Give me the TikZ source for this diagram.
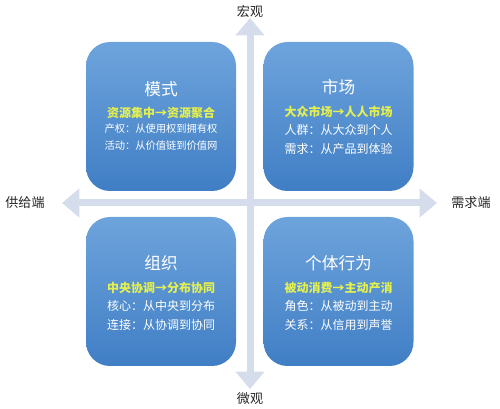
\documentclass[tikz,border=0pt]{standalone}
\usepackage{xcolor}
\usepackage{fontspec}
\setmainfont{Noto Sans CJK SC}
\usetikzlibrary{arrows.meta}

\definecolor{axisgray}{RGB}{213,220,236}
\definecolor{boxtop}{RGB}{110,164,220}
\definecolor{boxbottom}{RGB}{64,126,197}
\definecolor{keyyellow}{RGB}{228,240,78}

\tikzset{
  quad/.style={rounded corners=18pt, top color=boxtop, bottom color=boxbottom, draw=none,
    minimum width=112.5pt, minimum height=111.75pt, inner sep=0pt},
  headtext/.style={text=white, inner sep=0pt, font=\fontsize{12.5}{15}\selectfont},
  keytext/.style={text=keyyellow, inner sep=0pt, font=\fontsize{9}{11}\selectfont\bfseries},
  linetext/.style={text=white, inner sep=0pt, font=\fontsize{9}{11}\selectfont},
  smalltext/.style={text=white, inner sep=0pt, font=\fontsize{7.7}{9}\selectfont},
  axistext/.style={text=black!85, inner sep=0pt, font=\fontsize{9.8}{12}\selectfont},
  axisline/.style={draw=axisgray, line width=5.25pt, {Triangle[width=21pt,length=13pt]}-{Triangle[width=21pt,length=13pt]}}
}

\begin{document}
\begin{tikzpicture}[x=0.75pt,y=0.75pt,yscale=-1,xscale=1]
\useasboundingbox (0,0) rectangle (500,409);

%Axis ends
\coordinate (north) at (250,18);
\coordinate (south) at (250,389);
\coordinate (west) at (62,203);
\coordinate (east) at (437,203);
%Straight Lines: axes
\draw[axisline] (south) -- (north);
\draw[axisline] (west) -- (east);

%Shape: Rounded boxes
\node[quad] (mode) at (161,116.5) {};
\node[quad] (market) at (338.5,116.5) {};
\node[quad] (org) at (161,291.5) {};
\node[quad] (indiv) at (338.5,291.5) {};

% Text Node
\node[axistext] (macro) at (250,11) {宏观};
% Text Node
\node[axistext] (micro) at (250,399) {微观};
% Text Node
\node[axistext] (supply) at (25,203) {供给端};
% Text Node
\node[axistext] (demand) at (471,203) {需求端};

% Text Node
\node[headtext] (modeT) at (161,89) {模式};
\node[keytext] (modeK) at (161,113) {资源集中→资源聚合};
\node[smalltext] (modeA) at (161,129) {产权：从使用权到拥有权};
\node[smalltext] (modeB) at (161,146) {活动：从价值链到价值网};

% Text Node
\node[headtext] (marketT) at (338.5,87) {市场};
\node[keytext] (marketK) at (338.5,112) {大众市场→人人市场};
\node[linetext] (marketA) at (338.5,130) {人群：从大众到个人};
\node[linetext] (marketB) at (338.5,149) {需求：从产品到体验};

% Text Node
\node[headtext] (orgT) at (161,263) {组织};
\node[keytext] (orgK) at (161,288) {中央协调→分布协同};
\node[linetext] (orgA) at (161,306) {核心：从中央到分布};
\node[linetext] (orgB) at (161,325) {连接：从协调到协同};

% Text Node
\node[headtext] (indivT) at (338.5,263) {个体行为};
\node[keytext] (indivK) at (338.5,288) {被动消费→主动产消};
\node[linetext] (indivA) at (338.5,306) {角色：从被动到主动};
\node[linetext] (indivB) at (338.5,325) {关系：从信用到声誉};

\end{tikzpicture}
\end{document}
